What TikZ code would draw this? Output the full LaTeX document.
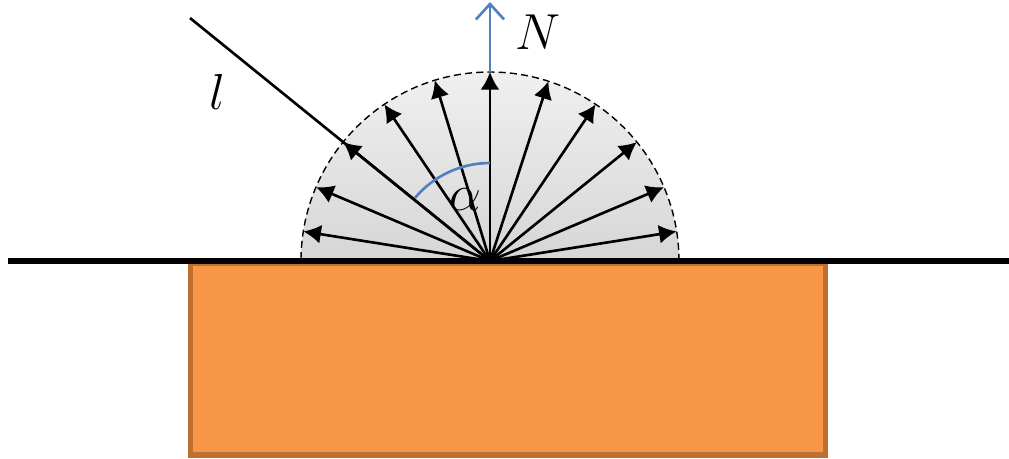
\documentclass[tikz,border=0pt]{standalone}
\usepackage{tikz}
\usetikzlibrary{arrows.meta}
\definecolor{slab}{RGB}{247,150,70}
\definecolor{slabedge}{RGB}{190,112,48}
\definecolor{normalblue}{RGB}{79,129,189}
\tikzset{
  ray/.style={-{Latex[length=5pt,width=5.4pt]}, black, line width=0.75pt},
  ground/.style={black, line width=1.6pt},
  dome/.style={draw=black, dash pattern=on 2pt off 1.2pt, line width=0.4pt,
               top color=black!6, bottom color=black!16},
  block/.style={draw=slabedge, fill=slab, line width=1.6pt},
  normal/.style={normalblue, line width=0.75pt},
  lbl/.style={font=\fontsize{15}{18}\selectfont, inner sep=0pt},
}

\begin{document}
\begin{tikzpicture}
    \useasboundingbox (-4.90,-1.97) rectangle (5.19,2.61);
    \coordinate (o) at (0,0);
    \path[dome] (1.89,0) arc (0:180:1.89) -- cycle;
    \draw[block] (-2.995,-0.02) rectangle (3.355,-1.94);
    \coordinate (gl) at (-4.82,0);
    \coordinate (gr) at (5.19,0);
    \draw[ground] (gl) -- (gr);
    \foreach \a in {9,23,39,56,72,90,107,124,141,157,171} {
      \coordinate (t\a) at (\a:1.89);
      \draw[ray] (o) -- (t\a);
    }
    \coordinate (lsrc) at (-3.00,2.43);
    \draw[black, line width=0.75pt] (lsrc) -- (o);
    \coordinate (ntip) at (0,2.59);
    \draw[normal, -{Straight Barb[length=4.4pt,width=8pt]}] (t90) -- (ntip);
    \draw[normal] (90:0.98) arc (90:140:0.98);
    \node[lbl] (nlabel) at (0.48,2.29) {$N$};
    \node[lbl] (llabel) at (-2.73,1.69) {$l$};
    \node[lbl] (alabel) at (-0.25,0.61) {$\alpha$};
\end{tikzpicture}
\end{document}
